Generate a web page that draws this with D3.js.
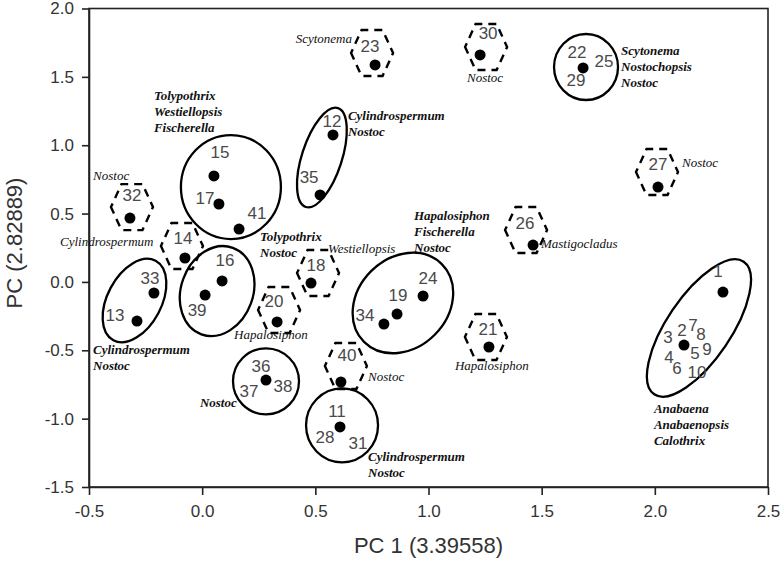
<!DOCTYPE html>
<html>
<head>
<meta charset="utf-8">
<script src="https://cdn.jsdelivr.net/npm/d3@7/dist/d3.min.js"></script>
<style>
  html, body { margin: 0; padding: 0; background: #fff; }
  svg { display: block; }
</style>
</head>
<body>
<svg id="chart" width="780" height="568"></svg>
<script>
// ---------------- DATA ----------------
const xTicks = [-0.5, 0.0, 0.5, 1.0, 1.5, 2.0, 2.5];
const yTicks = [-1.5, -1.0, -0.5, 0.0, 0.5, 1.0, 1.5, 2.0];
const xTitle = "PC 1 (3.39558)";
const yTitle = "PC (2.82889)";

// plotted points (PC1, PC2)
const dotX = [2.301, 2.129, 0.609, 0.578, -0.288, -0.076, 0.052, 0.088, 0.074, 0.481, 0.861, 0.331, 1.267, 1.683,
              0.764, 0.976, 1.462, 2.014, 1.228, -0.319, -0.213, 0.803, 0.521, 0.282, 0.013, 0.613, 0.163];
const dotY = [-0.074, -0.462, -1.061, 1.075, -0.286, 0.175, 0.775, 0.007, 0.570, -0.008, -0.235, -0.293, -0.476, 1.565,
              1.587, -0.103, 0.270, 0.694, 1.660, 0.467, -0.081, -0.308, 0.636, -0.718, -0.096, -0.732, 0.387];

// strain numbers and the point each belongs to
const sampleIds = ["1","2","3","4","5","6","7","8","9","10","11","12","13","14","15","16","17","18","19","20",
                   "21","22","23","24","25","26","27","28","29","30","31","32","33","34","35","36","37","38","39","40","41"];
const sampleDot = [0,1,1,1,1,1,1,1,1,1,2,3,4,5,6,7,8,9,10,11,12,13,14,15,13,16,17,2,13,18,2,19,20,21,22,23,23,23,24,25,26];

// points that are singletons (dashed hexagons)
const hexDots = [5, 9, 11, 12, 14, 16, 17, 18, 19, 25];

// cluster ellipses (centre in PC units)
const ellipseX = [0.127, 0.529, 1.696, -0.299, 0.066, 0.887, 0.282, 0.618, 2.195];
const ellipseY = [0.694, 0.910, 1.572, -0.136, -0.067, -0.154, -0.727, -1.049, -0.337];

// genus annotations
const genusLines = [
  ["Scytonema"],
  ["Nostoc"],
  ["Scytonema", "Nostochopsis", "Nostoc"],
  ["Nostoc"],
  ["Tolypothrix", "Westiellopsis", "Fischerella"],
  ["Cylindrospermum", "Nostoc"],
  ["Nostoc"],
  ["Cylindrospermum"],
  ["Tolypothrix", "Nostoc"],
  ["Westiellopsis"],
  ["Hapalosiphon", "Fischerella", "Nostoc"],
  ["Mastigocladus"],
  ["Hapalosiphon"],
  ["Cylindrospermum", "Nostoc"],
  ["Hapalosiphon"],
  ["Nostoc"],
  ["Nostoc"],
  ["Cylindrospermum", "Nostoc"],
  ["Anabaena", "Anabaenopsis", "Calothrix"]
];
const genusX = [0.662, 1.170, 1.851, 2.120, -0.213, 0.644, -0.482, -0.628, 0.256, 0.556, 0.936, 1.497, 0.141, -0.482, 1.117, 0.733, -0.010, 0.733, 1.996];
const genusY = [1.748, 1.462, 1.660, 0.841, 1.331, 1.184, 0.745, 0.263, 0.299, 0.212, 0.453, 0.248, -0.418, -0.528, -0.645, -0.725, -0.915, -1.310, -0.959];

// ---------------- LAYOUT / STYLE ----------------
const labelOffsets = [[-5,-21],[-2,-15],[-16,-8],[-15,12],[11,8],[-7,23],[9,-20],[17,-11],[23,4],[13,27],
  [-3,-16],[-1,-14],[-22,-6],[-2,-20],[6,-24],[3,-21],[-14,-6],[5,-18],[1,-19],[-3,-21],
  [-1,-18],[-6,-16],[-5,-19],[5,-18],[21,-7],[-8,-22],[0,-23],[-15,10],[-7,12],[8,-22],
  [18,16],[2,-23],[-4,-15],[-19,-9],[-11,-18],[-5,-14],[-17,11],[17,6],[-8,15],[6,-27],[18,-16]];
const hexOffsets = [[-3,-12],[7,-10],[2,-12],[-3,-10],[-3,-12],[-7,-15],[-1,-15],[6,-8],[2,-11],[5,-16]];
const ellipseShape = [ // rx, ry, rotation (deg)
  [50, 52, 0], [20, 52, 18], [32, 33, 0], [27, 45, 28], [36, 46, 20], [55, 45, -45], [33, 33, 0], [36, 37, 0], [32, 80, 34]];
const genusStyle = [ // bold?, anchor
  [false,"end"],[false,"start"],[true,"start"],[false,"start"],[true,"start"],[true,"start"],[false,"start"],[false,"start"],
  [true,"start"],[false,"start"],[true,"start"],[false,"start"],[false,"start"],[true,"start"],[false,"start"],[false,"start"],
  [true,"start"],[true,"start"],[true,"start"]];

const svg = d3.select("#chart");
const x = d3.scaleLinear().domain([-0.5, 2.5]).range([89, 768]);
const y = d3.scaleLinear().domain([-1.5, 2.0]).range([487, 8.5]);

// frame
svg.append("rect")
  .attr("x", x(-0.5)).attr("y", y(2.0))
  .attr("width", x(2.5) - x(-0.5)).attr("height", y(-1.5) - y(2.0))
  .attr("fill", "none").attr("stroke", "#222").attr("stroke-width", 1.6);

const fmt = d => d.toFixed(1);
const gx = svg.append("g").attr("transform", `translate(0,${y(-1.5)})`)
  .call(d3.axisBottom(x).tickValues(xTicks).tickFormat(fmt).tickSize(8).tickSizeOuter(0).tickPadding(10));
const gy = svg.append("g").attr("transform", `translate(${x(-0.5)},0)`)
  .call(d3.axisLeft(y).tickValues(yTicks).tickFormat(fmt).tickSize(7).tickSizeOuter(0).tickPadding(8));
[gx, gy].forEach(g => {
  g.select(".domain").attr("stroke", "#222").attr("stroke-width", 1.6);
  g.selectAll(".tick line").attr("stroke", "#222").attr("stroke-width", 1.6);
  g.selectAll(".tick text").attr("font-family", "'Liberation Sans', Arial, sans-serif")
    .attr("font-size", 17).attr("fill", "#333");
});

svg.append("text").attr("x", (x(-0.5) + x(2.5)) / 2).attr("y", 553)
  .attr("text-anchor", "middle").attr("font-family", "'Liberation Sans', Arial, sans-serif")
  .attr("font-size", 22).attr("fill", "#333").text(xTitle);
svg.append("text").attr("transform", `translate(22,243) rotate(-90)`)
  .attr("text-anchor", "middle").attr("font-family", "'Liberation Sans', Arial, sans-serif")
  .attr("font-size", 22).attr("fill", "#333").text(yTitle);

// ellipses
svg.append("g").selectAll("ellipse").data(ellipseX).join("ellipse")
  .attr("transform", (d, i) => `translate(${x(d)},${y(ellipseY[i])}) rotate(${ellipseShape[i][2]})`)
  .attr("rx", (d, i) => ellipseShape[i][0]).attr("ry", (d, i) => ellipseShape[i][1])
  .attr("fill", "none").attr("stroke", "#000").attr("stroke-width", 2.3);

// dashed hexagons
const hw = 21, hh = 23;
const hexPath = `M${-hw},0 L${-hw/2},${-hh} L${hw/2},${-hh} L${hw},0 L${hw/2},${hh} L${-hw/2},${hh} Z`;
svg.append("g").selectAll("path").data(hexDots).join("path")
  .attr("transform", (d, i) => `translate(${x(dotX[d]) + hexOffsets[i][0]},${y(dotY[d]) + hexOffsets[i][1]})`)
  .attr("d", hexPath)
  .attr("fill", "none").attr("stroke", "#000").attr("stroke-width", 2.4)
  .attr("stroke-dasharray", "8,6").attr("stroke-dashoffset", 4);

// dots
svg.append("g").selectAll("circle").data(dotX).join("circle")
  .attr("cx", d => x(d)).attr("cy", (d, i) => y(dotY[i])).attr("r", 5.5).attr("fill", "#000");

// strain numbers
svg.append("g").selectAll("text").data(sampleIds).join("text")
  .attr("x", (d, i) => x(dotX[sampleDot[i]]) + labelOffsets[i][0])
  .attr("y", (d, i) => y(dotY[sampleDot[i]]) + labelOffsets[i][1])
  .attr("dy", "0.36em").attr("text-anchor", "middle")
  .attr("font-family", "'Liberation Sans', Arial, sans-serif").attr("font-size", 17)
  .attr("fill", "#4a4a4a").text(d => d);

// genus annotations
const gg = svg.append("g").selectAll("text").data(genusLines).join("text")
  .attr("x", (d, i) => x(genusX[i])).attr("y", (d, i) => y(genusY[i]))
  .attr("text-anchor", (d, i) => genusStyle[i][1])
  .attr("font-family", "'Liberation Serif', 'Times New Roman', serif").attr("font-size", 13)
  .attr("font-style", "italic")
  .attr("font-weight", (d, i) => genusStyle[i][0] ? "bold" : "normal")
  .attr("fill", "#111");
gg.each(function(lines, i) {
  const t = d3.select(this);
  lines.forEach((ln, k) => {
    t.append("tspan").attr("x", x(genusX[i])).attr("dy", k === 0 ? 0 : 16).text(ln);
  });
});
</script>
</body>
</html>
